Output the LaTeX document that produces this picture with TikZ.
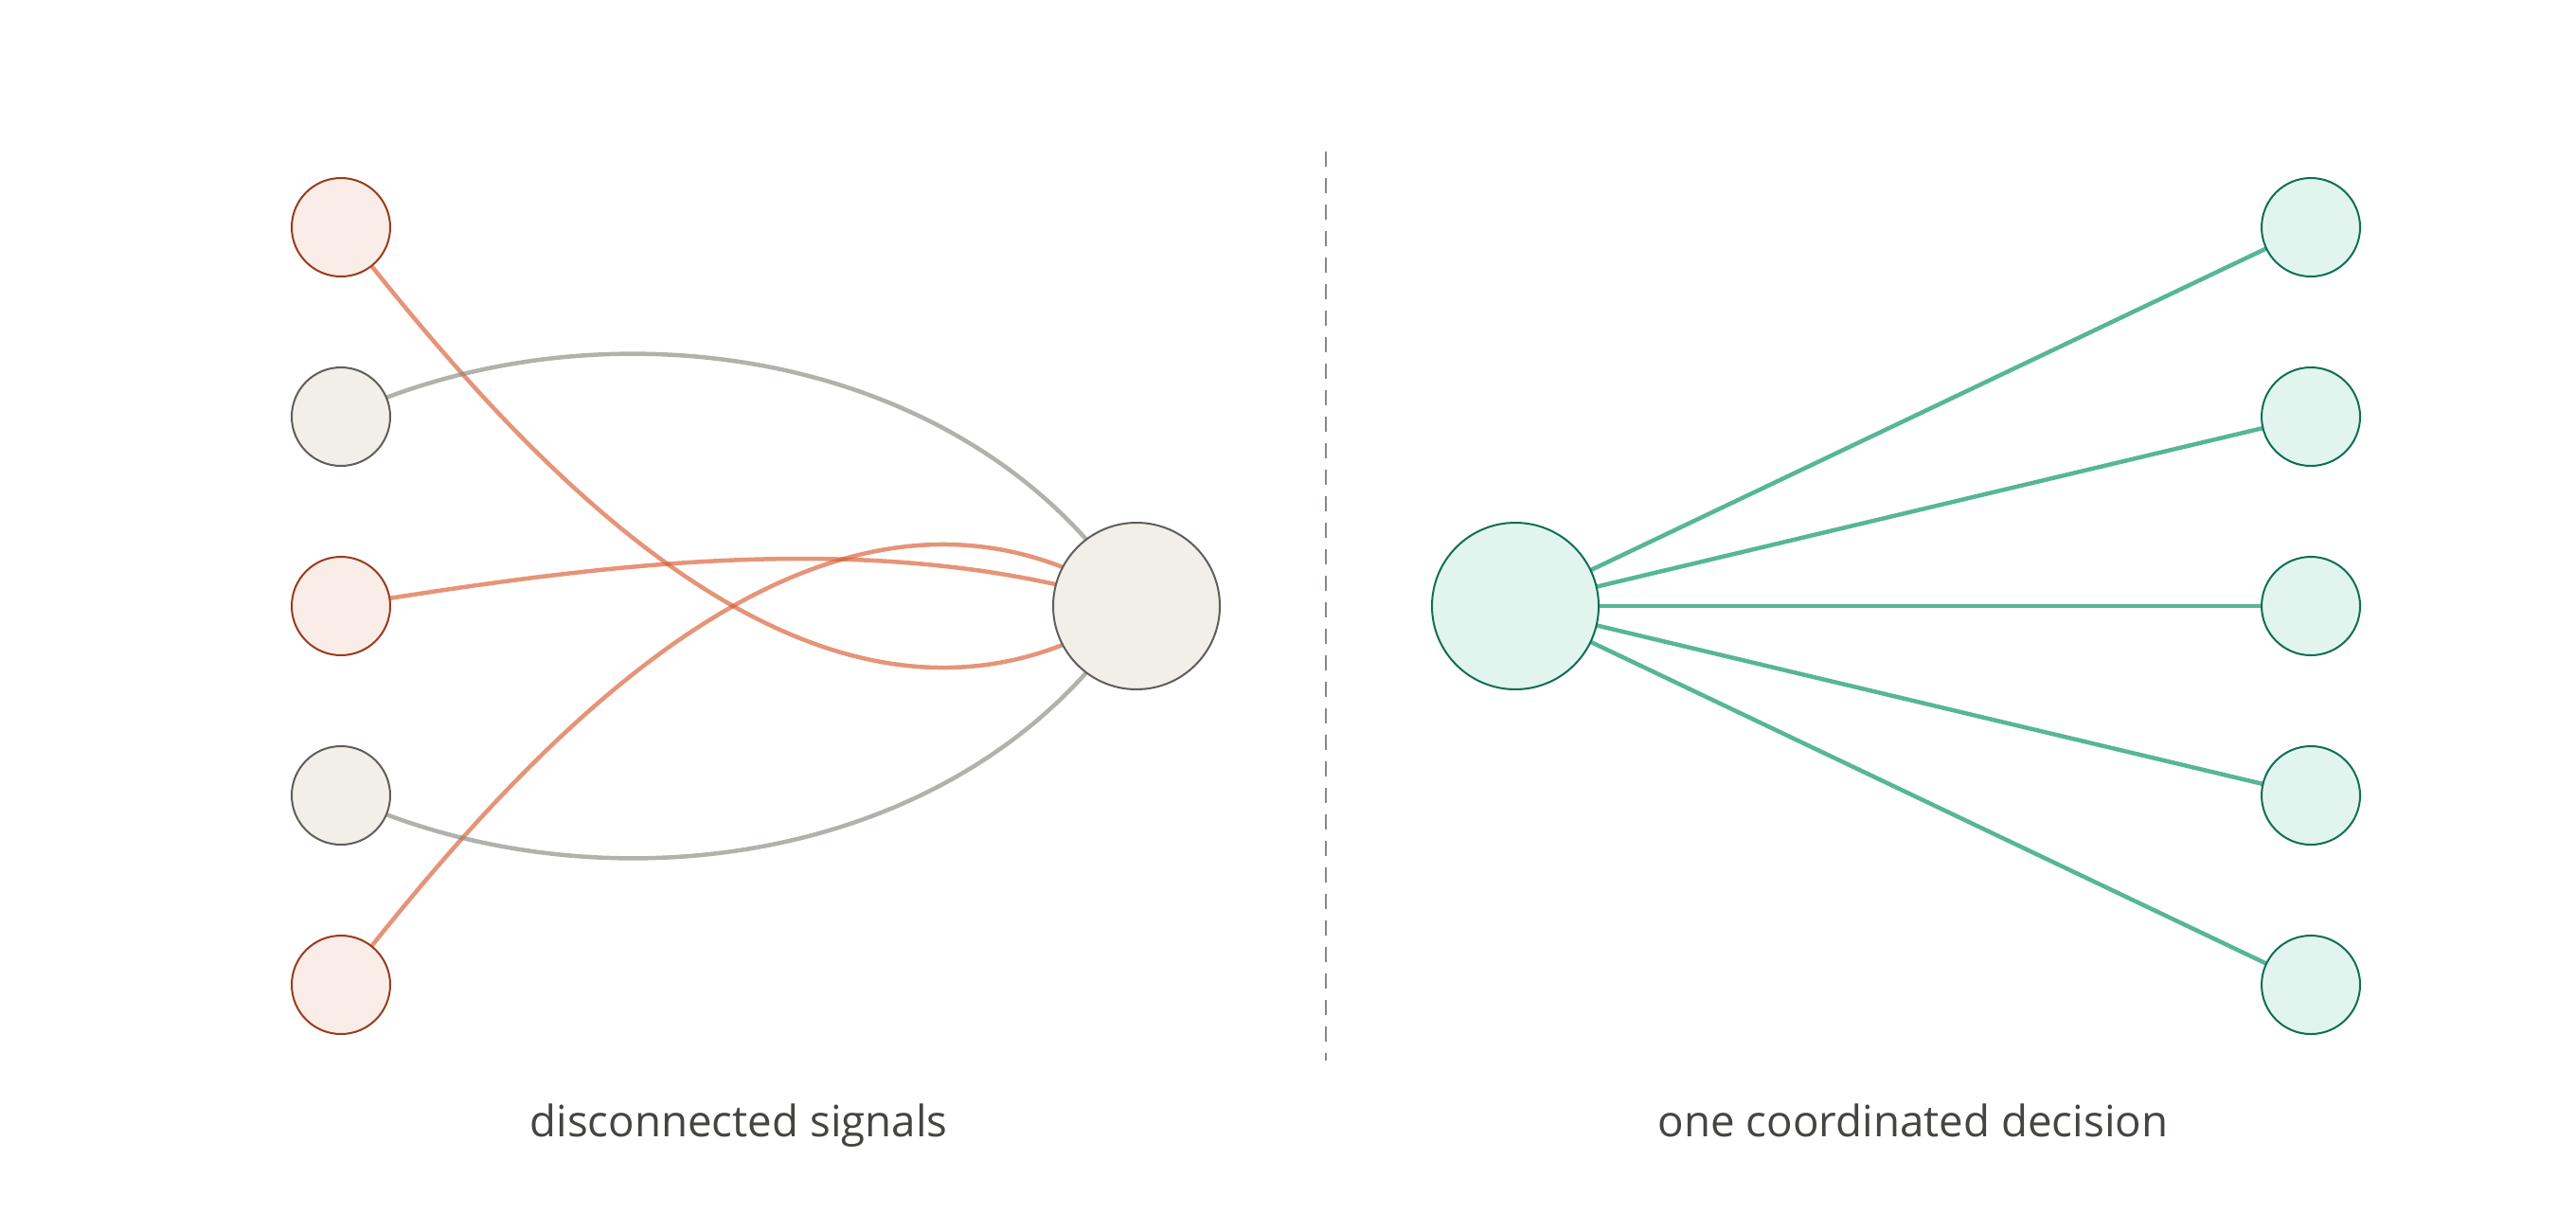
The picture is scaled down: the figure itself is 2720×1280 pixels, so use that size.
\documentclass[tikz,border=0pt]{standalone}
\usepackage{fontspec}
\setmainfont{Open Sans}
\usetikzlibrary{backgrounds}

\definecolor{warmline}{HTML}{D85A30}
\definecolor{warmfill}{HTML}{FAECE7}
\definecolor{warmedge}{HTML}{993C1D}
\definecolor{greyline}{HTML}{888780}
\definecolor{greyfill}{HTML}{F1EFE8}
\definecolor{greyedge}{HTML}{5F5E5A}
\definecolor{tealline}{HTML}{1D9E75}
\definecolor{tealfill}{HTML}{E1F5EE}
\definecolor{tealedge}{HTML}{0F6E56}
\definecolor{captiongrey}{HTML}{444441}

\tikzset{
	dot/.style={circle, inner sep=0pt, minimum size=1.04cm, line width=0.2mm},
	hubdot/.style={dot, minimum size=1.76cm},
	warmdot/.style={draw=warmedge, fill=warmfill},
	greydot/.style={draw=greyedge, fill=greyfill},
	tealdot/.style={draw=tealedge, fill=tealfill},
	warmwire/.style={draw=warmline, draw opacity=0.65, line width=0.45mm},
	greywire/.style={draw=greyline, draw opacity=0.65, line width=0.45mm},
	tealwire/.style={draw=tealline, draw opacity=0.75, line width=0.45mm},
	divider/.style={draw=greyline, line width=0.2mm, dash pattern=on 1.6mm off 1.2mm},
	caption/.style={anchor=base, text=captiongrey, font=\fontsize{13}{16}\selectfont}
}

\begin{document}
\begin{tikzpicture}[x=0.1mm, y=-0.1mm]
	%%%%% START %%%%%
	\useasboundingbox (0, 0) rectangle (2720, 1280);
	
	% left: scattered signals
	\node[dot, warmdot] (s1) at (360, 240) {};
	\node[dot, greydot] (s2) at (360, 440) {};
	\node[dot, warmdot] (s3) at (360, 640) {};
	\node[dot, greydot] (s4) at (360, 840) {};
	\node[dot, warmdot] (s5) at (360, 1040) {};
	\node[hubdot, greydot] (hubL) at (1200, 640) {};
	
	% right: one decision
	\node[hubdot, tealdot] (hubR) at (1600, 640) {};
	\node[dot, tealdot] (d1) at (2440, 240) {};
	\node[dot, tealdot] (d2) at (2440, 440) {};
	\node[dot, tealdot] (d3) at (2440, 640) {};
	\node[dot, tealdot] (d4) at (2440, 840) {};
	\node[dot, tealdot] (d5) at (2440, 1040) {};
	
	\begin{scope}[on background layer]
		\draw[warmwire] (s1.center) .. controls (540, 470) and (870, 860) .. (hubL.center);
		\draw[warmwire] (s3.center) .. controls (634, 596) and (930, 554) .. (hubL.center);
		\draw[warmwire] (s5.center) .. controls (540, 810) and (870, 420) .. (hubL.center);
		\draw[greywire] (s2.center) .. controls (636, 311) and (1028, 366) .. (hubL.center);
		\draw[greywire] (s4.center) .. controls (636, 969) and (1028, 914) .. (hubL.center);
		
		\foreach \i in {1,...,5}
			\draw[tealwire] (hubR.center) -- (d\i.center);
	\end{scope}
	
	\coordinate (divtop) at (1400, 160);
	\coordinate (divbot) at (1400, 1120);
	\draw[divider] (divtop) -- (divbot);
	
	\node[caption] (capL) at (780, 1200) {disconnected signals};
	\node[caption] (capR) at (2020, 1200) {one coordinated decision};
	%%%%% END %%%%%
\end{tikzpicture}
\end{document}
